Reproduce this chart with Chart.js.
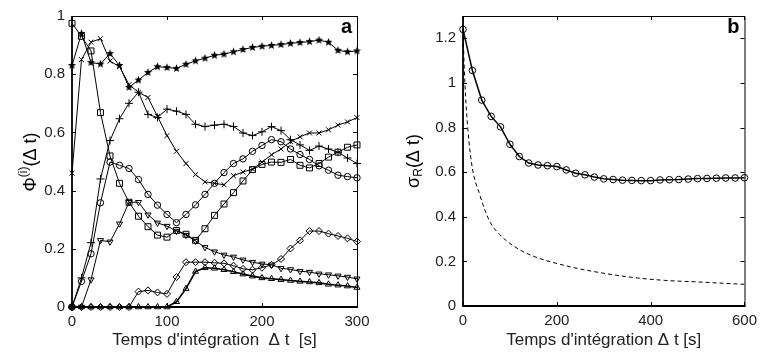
<!DOCTYPE html>
<html>
<head>
<meta charset="utf-8">
<script src="https://cdn.jsdelivr.net/npm/chart.js@4.4.1/dist/chart.umd.min.js"></script>
<style>
  html, body { margin: 0; padding: 0; background: #fff; }
  #wrap { position: relative; width: 763px; height: 360px; }
  .box { position: absolute; top: 0; }
</style>
</head>
<body>
<div id="wrap">
  <div class="box" style="left:0"><canvas id="chartA" width="381" height="360"></canvas></div>
  <div class="box" style="left:381px"><canvas id="chartB" width="382" height="360"></canvas></div>
</div>
<script>
// ---- panel a : Φ(i)(Δt), pas de 10 s
const tempsA = [0, 10, 20, 30, 40, 50, 60, 70, 80, 90, 100, 110, 120, 130, 140, 150,
                160, 170, 180, 190, 200, 210, 220, 230, 240, 250, 260, 270, 280, 290, 300];

const serieEtoile = [0.83, 0.94, 0.84, 0.835, 0.871, 0.83, 0.755, 0.78, 0.806, 0.826, 0.823, 0.82, 0.834, 0.846, 0.855, 0.865,
                     0.869, 0.877, 0.885, 0.892, 0.896, 0.899, 0.902, 0.906, 0.909, 0.912, 0.917, 0.91, 0.882, 0.877, 0.88];
const serieCroixRot = [0.46, 0.85, 0.91, 0.922, 0.845, 0.826, 0.764, 0.738, 0.72, 0.655, 0.589, 0.535, 0.493, 0.455, 0.43, 0.425,
                       0.42, 0.451, 0.464, 0.474, 0.498, 0.523, 0.543, 0.568, 0.585, 0.598, 0.598, 0.609, 0.625, 0.636, 0.651];
const serieCroix = [0, 0.1, 0.221, 0.44, 0.572, 0.647, 0.70, 0.738, 0.662, 0.651, 0.68, 0.673, 0.662, 0.628, 0.62, 0.625,
                    0.628, 0.62, 0.598, 0.589, 0.602, 0.62, 0.606, 0.575, 0.557, 0.538, 0.553, 0.543, 0.532, 0.512, 0.493];
const serieCercle = [0, 0.088, 0.183, 0.358, 0.498, 0.487, 0.476, 0.438, 0.387, 0.35, 0.318, 0.29, 0.318, 0.351, 0.387, 0.425,
                     0.462, 0.493, 0.509, 0.535, 0.555, 0.575, 0.568, 0.543, 0.524, 0.507, 0.485, 0.47, 0.453, 0.448, 0.444];
const serieCarre = [0.975, 0.93, 0.88, 0.668, 0.519, 0.425, 0.36, 0.312, 0.276, 0.247, 0.24, 0.263, 0.25, 0.229, 0.269, 0.315,
                    0.354, 0.393, 0.433, 0.472, 0.49, 0.498, 0.497, 0.507, 0.487, 0.478, 0.493, 0.515, 0.532, 0.549, 0.557];
const serieTriBas = [0, 0, 0.094, 0.229, 0.224, 0.286, 0.36, 0.36, 0.317, 0.289, 0.278, 0.261, 0.247, 0.227, 0.205, 0.19,
                     0.179, 0.172, 0.162, 0.154, 0.148, 0.145, 0.133, 0.129, 0.123, 0.12, 0.114, 0.111, 0.107, 0.103, 0.097];
const serieLosange = [0, 0, 0, 0, 0, 0, 0, 0.053, 0.057, 0.05, 0.045, 0.103, 0.154, 0.154, 0.154, 0.152,
                      0.15, 0.142, 0.131, 0.128, 0.135, 0.145, 0.165, 0.201, 0.229, 0.261, 0.261, 0.252, 0.244, 0.236, 0.225];
const serieTriHaut = [0, 0, 0, 0, 0, 0, 0, 0, 0, 0, 0, 0.018, 0.063, 0.122, 0.135, 0.133,
                      0.128, 0.121, 0.113, 0.106, 0.1, 0.097, 0.094, 0.091, 0.088, 0.086, 0.083, 0.078, 0.075, 0.072, 0.067];

// ---- panel b : σR(Δt), pas de 20 s
const tempsB = [0, 20, 40, 60, 80, 100, 120, 140, 160, 180, 200, 220, 240, 260, 280, 300,
                320, 340, 360, 380, 400, 420, 440, 460, 480, 500, 520, 540, 560, 580, 600];
const sigmaR = [1.24, 1.056, 0.923, 0.85, 0.803, 0.725, 0.67, 0.641, 0.632, 0.629, 0.625, 0.61, 0.595, 0.588, 0.578, 0.57,
                0.567, 0.564, 0.563, 0.562, 0.562, 0.565, 0.566, 0.567, 0.569, 0.571, 0.572, 0.573, 0.574, 0.574, 0.575];
// courbe en tirets
const tiretsT = [0, 3, 7.7, 18, 36, 57, 78, 113, 148, 218, 288, 358, 429, 499, 600];
const tiretsV = [1.24, 1.05, 0.865, 0.644, 0.497, 0.379, 0.321, 0.262, 0.225, 0.181, 0.151, 0.129, 0.115, 0.108, 0.097];

const xTitreA = "Temps d'intégration  \u0394 t  [s]";
const xTitreB = "Temps d'intégration \u0394 t [s]";

const POLICE = "'Liberation Sans', Arial, sans-serif";

// étoile pleine à 5 branches (marqueur MATLAB 'p')
function faireEtoile(taille) {
    const c = document.createElement('canvas');
    c.width = c.height = taille;
    const g = c.getContext('2d');
    const r = taille / 2, ri = r * 0.42;
    g.beginPath();
    for (let i = 0; i < 10; i++) {
        const ang = -Math.PI / 2 + i * Math.PI / 5;
        const rr = i % 2 ? ri : r - 0.3;
        g.lineTo(r + rr * Math.cos(ang), r + rr * Math.sin(ang));
    }
    g.closePath();
    g.fillStyle = '#000';
    g.fill();
    return c;
}
const etoile = faireEtoile(9);

const xy = (xs, ys) => xs.map((x, i) => ({ x: x, y: ys[i] }));

function serie(valeurs, style, extra) {
    return Object.assign({
        data: xy(tempsA, valeurs),
        borderColor: '#000',
        borderWidth: 1,
        pointStyle: style,
        pointRadius: 3.5,
        pointBorderColor: '#000',
        pointBackgroundColor: 'rgba(0,0,0,0)',
        pointBorderWidth: 1,
        clip: false
    }, extra || {});
}

// cadre, graduations vers l'intérieur, lettre du panneau et titre vertical
const cadrePlugin = {
    id: 'cadre',
    afterDraw(chart, args, o) {
        const { ctx, chartArea: a, scales: { x, y } } = chart;
        ctx.save();
        ctx.strokeStyle = '#000';
        ctx.lineWidth = 1;
        ctx.beginPath();
        ctx.moveTo(a.left, a.top + 0.5); ctx.lineTo(a.right + 0.5, a.top + 0.5);
        ctx.lineTo(a.right + 0.5, a.bottom);
        ctx.stroke();
        ctx.lineWidth = 1.8;
        ctx.beginPath();
        ctx.moveTo(a.left, a.top); ctx.lineTo(a.left, a.bottom); ctx.lineTo(a.right + 1, a.bottom);
        ctx.stroke();
        ctx.lineWidth = 1;
        ctx.beginPath();
        const L = 4;
        x.ticks.forEach(t => {
            const px = Math.round(x.getPixelForValue(t.value)) + 0.5;
            ctx.moveTo(px, a.bottom); ctx.lineTo(px, a.bottom - L);
            ctx.moveTo(px, a.top); ctx.lineTo(px, a.top + L);
        });
        y.ticks.forEach(t => {
            const py = Math.round(y.getPixelForValue(t.value)) + 0.5;
            ctx.moveTo(a.left, py); ctx.lineTo(a.left + L, py);
            ctx.moveTo(a.right, py); ctx.lineTo(a.right - L, py);
        });
        ctx.stroke();

        ctx.fillStyle = '#000';
        ctx.font = 'bold 20px ' + POLICE;
        ctx.textAlign = 'right';
        ctx.textBaseline = 'alphabetic';
        ctx.fillText(o.lettre, a.right - 5, a.top + 17);

        // titre de l'axe y avec indice / exposant
        ctx.translate(o.titreX, o.titreY);
        ctx.rotate(-Math.PI / 2);
        ctx.textAlign = 'left';
        ctx.textBaseline = 'middle';
        let total = 0;
        o.parties.forEach(p => { ctx.font = p.taille + 'px ' + POLICE; total += ctx.measureText(p.texte).width; });
        let cx = -total / 2;
        o.parties.forEach(p => {
            ctx.font = p.taille + 'px ' + POLICE;
            ctx.fillText(p.texte, cx, p.dy || 0);
            cx += ctx.measureText(p.texte).width;
        });
        ctx.restore();
    }
};

const formatTick = v => String(Number(v.toFixed(2)));

function axes(xMax, xPas, yMax, largeurY, hauteurX, titreX) {
    return {
        x: {
            type: 'linear', min: 0, max: xMax,
            grid: { display: false, drawTicks: false },
            border: { display: false },
            ticks: { stepSize: xPas, padding: 6, color: '#222', font: { family: POLICE, size: 15 }, callback: formatTick },
            title: { display: true, text: titreX, color: '#222', font: { family: POLICE, size: 17 }, padding: { top: 0, bottom: 9 } },
            afterFit: s => { s.height = hauteurX; }
        },
        y: {
            min: 0, max: yMax,
            grid: { display: false, drawTicks: false },
            border: { display: false },
            ticks: { stepSize: 0.2, includeBounds: false, padding: 7, color: '#222', font: { family: POLICE, size: 15 }, callback: formatTick },
            afterFit: s => { s.width = largeurY; }
        }
    };
}

new Chart(document.getElementById('chartA'), {
    type: 'line',
    data: {
        datasets: [
            serie(serieEtoile, etoile),
            serie(serieCroixRot, 'crossRot'),
            serie(serieCroix, 'cross', { pointRadius: 4 }),
            serie(serieCercle, 'circle', { pointRadius: 3.2 }),
            serie(serieCarre, 'rect', { pointRadius: 4.2 }),
            serie(serieTriBas, 'triangle', { pointRotation: 180 }),
            serie(serieLosange, 'rectRot'),
            serie(serieTriHaut, 'triangle', { borderWidth: 1.6 })
        ]
    },
    options: {
        responsive: false,
        animation: false,
        layout: { padding: { left: 0, right: 24, top: 12, bottom: 0 } },
        plugins: {
            legend: { display: false },
            tooltip: { enabled: false },
            cadre: {
                lettre: 'a', titreX: 31, titreY: 162,
                parties: [
                    { texte: '\u03A6', taille: 18 },
                    { texte: '(i)', taille: 12, dy: -7 },
                    { texte: '(\u0394 t)', taille: 18 }
                ]
            }
        },
        scales: axes(300, 100, 1, 72, 53, xTitreA)
    },
    plugins: [cadrePlugin]
});

new Chart(document.getElementById('chartB'), {
    type: 'line',
    data: {
        datasets: [
            {
                data: xy(tempsB, sigmaR),
                borderColor: '#000',
                borderWidth: 1.5,
                pointStyle: 'circle',
                pointRadius: 3.3,
                pointBorderColor: '#000',
                pointBackgroundColor: 'rgba(0,0,0,0)',
                pointBorderWidth: 1,
                clip: false
            },
            {
                data: xy(tiretsT, tiretsV),
                borderColor: '#000',
                borderWidth: 1,
                borderDash: [4, 3],
                pointRadius: 0,
                cubicInterpolationMode: 'monotone'
            }
        ]
    },
    options: {
        responsive: false,
        animation: false,
        layout: { padding: { left: 0, right: 15, top: 12, bottom: 0 } },
        plugins: {
            legend: { display: false },
            tooltip: { enabled: false },
            cadre: {
                lettre: 'b', titreX: 33, titreY: 161,
                parties: [
                    { texte: '\u03C3', taille: 18 },
                    { texte: 'R', taille: 12, dy: 5 },
                    { texte: '(\u0394 t)', taille: 18 }
                ]
            }
        },
        scales: axes(600, 200, 1.3, 82, 54, xTitreB)
    },
    plugins: [cadrePlugin]
});
</script>
</body>
</html>
